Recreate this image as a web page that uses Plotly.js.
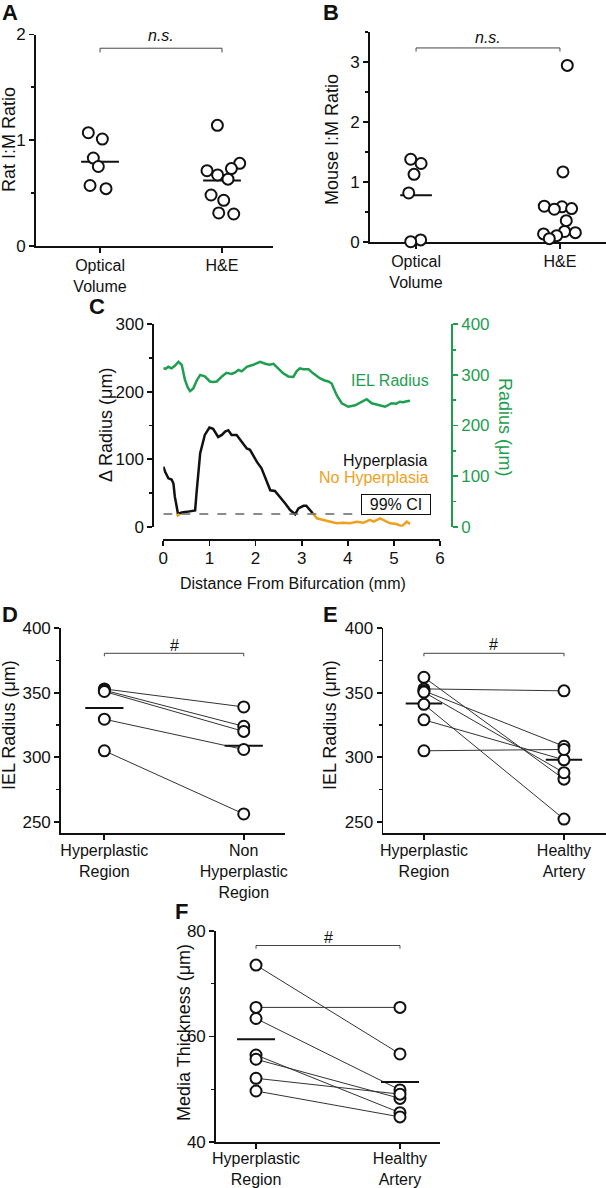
<!DOCTYPE html>
<html>
<head>
<meta charset="utf-8">
<script src="https://cdn.plot.ly/plotly-3.0.1.min.js"></script>
<style>html,body{margin:0;padding:0;background:#fff;}#chart{width:606px;height:1188px;}</style>
</head>
<body>
<div id="chart"></div>
<script>
// ---------------- DATA ----------------
// Panel A: rat I:M ratio
const catsAB = ['Optical<br>Volume', 'H&E'];
const ratOptical = [1.07, 1.01, 0.83, 0.75, 0.57, 0.54];
const ratHE = [1.14, 0.78, 0.73, 0.71, 0.67, 0.63, 0.48, 0.43, 0.31, 0.30];
// Panel B: mouse I:M ratio
const mouseOptical = [1.38, 1.31, 1.13, 0.82, 0.04, 0.01];
const mouseHE = [2.94, 1.17, 0.60, 0.59, 0.56, 0.55, 0.36, 0.14, 0.18, 0.16, 0.11, 0.06];
// Panel C: profile along the artery
const ielDist = [0.0, 0.05, 0.11, 0.18, 0.25, 0.33, 0.40, 0.47, 0.53, 0.58, 0.65, 0.72, 0.80, 0.90, 1.01, 1.08, 1.16, 1.27, 1.37, 1.48, 1.56, 1.63, 1.70, 1.81, 1.95, 2.10, 2.21, 2.30, 2.39, 2.49, 2.60, 2.71, 2.82, 2.89, 2.96, 3.04, 3.15, 3.25, 3.40, 3.50, 3.58, 3.65, 3.76, 3.87, 4.01, 4.16, 4.27, 4.35, 4.41, 4.52, 4.66, 4.81, 4.95, 5.05, 5.13, 5.20, 5.28, 5.35];
const ielRadius = [313, 312, 316, 313, 318, 326, 320, 290, 275, 268, 273, 288, 300, 297, 287, 286, 287, 297, 304, 302, 305, 310, 307, 316, 320, 326, 322, 320, 322, 313, 303, 297, 296, 307, 313, 311, 311, 303, 293, 289, 287, 283, 260, 244, 237, 240, 245, 250, 252, 244, 240, 237, 244, 243, 247, 246, 248, 249];
const hypDist = [0.0, 0.04, 0.11, 0.18, 0.22, 0.25, 0.29, 0.32, 0.36, 0.40, 0.51, 0.65, 0.69, 0.72, 0.76, 0.80, 0.90, 1.00, 1.08, 1.19, 1.27, 1.34, 1.41, 1.48, 1.59, 1.70, 1.81, 1.88, 2.03, 2.13, 2.24, 2.32, 2.42, 2.53, 2.64, 2.75, 2.86, 2.93, 3.04, 3.10, 3.18, 3.24];
const hypDelta = [89, 81.5, 71.7, 70, 64, 44.5, 30, 18, 20, 21, 22, 23, 24, 49.5, 85, 109, 136, 147, 145, 133, 136, 141, 143, 136, 136, 126, 116, 114, 96, 86.5, 69, 54, 53, 44.5, 34.7, 24.7, 18.5, 27, 31, 31, 25, 20];
const noHypDist = [0.30, 0.32, 0.35, null, 3.24, 3.27, 3.33, 3.47, 3.62, 3.76, 3.90, 4.05, 4.19, 4.34, 4.48, 4.56, 4.70, 4.81, 4.92, 5.06, 5.17, 5.28, 5.35];
const noHypDelta = [19, 16, 19, null, 20, 17.3, 12.4, 10, 7.4, 5, 6, 5, 7.4, 6, 10, 7.4, 12.4, 8.6, 5, 4, 0.5, 7.4, 4];
const ci99 = 19;
const ciEnd = 4.23;
// Panel D: IEL radius, hyperplastic vs non-hyperplastic
const catsD = ['Hyperplastic<br>Region', 'Non<br>Hyperplastic<br>Region'];
const dHyper = [353, 352, 351, 329.5, 305];
const dNon = [339, 324, 320, 306, 256];
// Panel E: IEL radius, hyperplastic vs healthy
const catsEF = ['Hyperplastic<br>Region', 'Healthy<br>Artery'];
const eHyper = [362, 353, 351.5, 350.5, 341, 329, 305];
const eHealthy = [283, 351.5, 308.5, 288, 252, 298, 306];
// Panel F: media thickness
const fHyper = [73.5, 65.5, 63.4, 56.5, 55.7, 52.1, 49.7];
const fHealthy = [56.7, 65.5, 49.9, 45.6, 48.3, 49.1, 44.8];

// horizontal scatter offsets (layout only)
const jitA0 = [-0.096, 0.019, -0.055, -0.014, -0.082, 0.049];
const jitA1 = [-0.038, 0.145, 0.077, -0.123, -0.036, 0.049, -0.09, 0.014, -0.027, 0.096];
const jitB0 = [-0.037, 0.035, -0.014, -0.051, 0.032, -0.037];
const jitB1 = [0.051, 0.021, -0.109, 0.014, 0.081, -0.039, 0.044, -0.114, 0.032, 0.107, -0.023, -0.074];

// ---------------- HELPERS ----------------
const W = 606, H = 1188;
const FONT = 'Liberation Sans, Arial, Helvetica, sans-serif';
const INK = '#111';
const GREEN = '#1e9e4f';
const ORANGE = '#f0a01c';
const dx = (a, b) => [a / W, b / W];
const dy = (t, b) => [(H - b) / H, (H - t) / H];
const mean = a => a.reduce((s, v) => s + v, 0) / a.length;

const traces = [];
function points(xs, ys, xa, ya) {
  traces.push({type: 'scatter', mode: 'markers', x: xs, y: ys, xaxis: xa, yaxis: ya,
    cliponaxis: false, hoverinfo: 'skip',
    marker: {symbol: 'circle', size: 11, color: '#fff', line: {color: INK, width: 2}}});
}
function meanLine(c, vals, hw, xa, ya) {
  const m = mean(vals);
  traces.push({type: 'scatter', mode: 'lines', x: [c - hw, c + hw], y: [m, m], xaxis: xa, yaxis: ya,
    cliponaxis: false, hoverinfo: 'skip', line: {color: INK, width: 2}});
}
function scatterGroup(c, vals, jit, xa, ya) {
  points(vals.map((v, i) => c + jit[i]), vals, xa, ya);
}
function paired(a, b, hw, xa, ya) {
  a.forEach((v, i) => {
    traces.push({type: 'scatter', mode: 'lines', x: [0, 1], y: [v, b[i]], xaxis: xa, yaxis: ya,
      hoverinfo: 'skip', line: {color: '#333', width: 1}});
  });
  meanLine(0, a, hw, xa, ya);
  meanLine(1, b, hw, xa, ya);
  points(a.map(() => 0), a, xa, ya);
  points(b.map(() => 1), b, xa, ya);
}

// Panel A
meanLine(0, ratOptical, 0.155, 'x', 'y');
meanLine(1, ratHE, 0.155, 'x', 'y');
scatterGroup(0, ratOptical, jitA0, 'x', 'y');
scatterGroup(1, ratHE, jitA1, 'x', 'y');
// Panel B
meanLine(0, mouseOptical, 0.11, 'x2', 'y2');
meanLine(1, mouseHE, 0.11, 'x2', 'y2');
scatterGroup(0, mouseOptical, jitB0, 'x2', 'y2');
scatterGroup(1, mouseHE, jitB1, 'x2', 'y2');
// Panel C
traces.push({type: 'scatter', mode: 'lines', x: ielDist, y: ielRadius, xaxis: 'x3', yaxis: 'y4',
  hoverinfo: 'skip', line: {color: GREEN, width: 2.5}});
traces.push({type: 'scatter', mode: 'lines', x: hypDist, y: hypDelta, xaxis: 'x3', yaxis: 'y3',
  hoverinfo: 'skip', line: {color: INK, width: 2.5}});
traces.push({type: 'scatter', mode: 'lines', x: noHypDist, y: noHypDelta, xaxis: 'x3', yaxis: 'y3',
  hoverinfo: 'skip', connectgaps: false, line: {color: ORANGE, width: 2.5}});
// Panel D, E, F
paired(dHyper, dNon, 0.137, 'x5', 'y5');
paired(eHyper, eHealthy, 0.13, 'x6', 'y6');
paired(fHyper, fHealthy, 0.132, 'x7', 'y7');

// ---------------- LAYOUT ----------------
const base = {showgrid: false, zeroline: false, showline: true, linecolor: INK, linewidth: 1.8,
  ticks: 'outside', tickcolor: INK, tickwidth: 1.8, ticklen: 5, fixedrange: true,
  tickfont: {family: FONT, size: 17, color: INK}};
const minor = (d, t0, col) => ({dtick: d, tick0: t0, ticks: 'outside', ticklen: 3, tickwidth: 1.8, tickcolor: col || INK, showgrid: false});
const catAxis = (dom, rng, anchor, txt, so) => Object.assign({}, base, {domain: dom, range: rng, anchor: anchor,
  tickmode: 'array', tickvals: [0, 1], ticktext: txt, ticklabelstandoff: so,
  tickfont: {family: FONT, size: 16, color: INK}});
const valAxis = (dom, rng, anchor, t0, d, md) => Object.assign({}, base, {domain: dom, range: rng, anchor: anchor,
  tickmode: 'linear', tick0: t0, dtick: d, minor: minor(md, t0)});

const layout = {
  width: W, height: H, margin: {l: 0, r: 0, t: 0, b: 0}, showlegend: false,
  paper_bgcolor: '#fff', plot_bgcolor: 'rgba(0,0,0,0)',
  font: {family: FONT, color: INK},
  xaxis: catAxis(dx(36, 273), [-0.525, 1.418], 'y', catsAB, -1),
  yaxis: valAxis(dy(34.5, 245.7), [0, 2], 'x', 0, 1, 0.5),
  xaxis2: Object.assign(catAxis(dx(370, 606), [-0.32, 1.32], 'y2', catsAB, -1), {layer: 'below traces'}),
  yaxis2: Object.assign(valAxis(dy(31.7, 242.3), [0, 3.5], 'x2', 0, 1, 0.5), {layer: 'below traces'}),
  xaxis3: Object.assign({}, base, {domain: dx(163.3, 440), range: [0, 6], anchor: 'free', position: (H - 539.3) / H,
    tickmode: 'linear', tick0: 0, dtick: 1, ticklabelstandoff: -3}),
  yaxis3: Object.assign({}, base, {domain: dy(324.3, 526.7), range: [0, 300], anchor: 'free', position: 152.3 / W,
    tickmode: 'linear', tick0: 0, dtick: 100, minor: minor(50, 0)}),
  yaxis4: Object.assign({}, base, {domain: dy(324.3, 526.7), range: [0, 400], overlaying: 'y3', side: 'right',
    anchor: 'free', position: 451 / W, linecolor: GREEN, tickcolor: GREEN,
    tickfont: {family: FONT, size: 17, color: GREEN},
    tickmode: 'linear', tick0: 0, dtick: 100, minor: minor(50, 0, GREEN)}),
  xaxis5: catAxis(dx(61, 285), [-0.311, 1.296], 'y5', catsD, -3),
  yaxis5: valAxis(dy(628.3, 833.3), [241, 400], 'x5', 250, 50, 25),
  xaxis6: catAxis(dx(383.3, 606), [-0.29, 1.30], 'y6', catsEF, -3),
  yaxis6: valAxis(dy(628.3, 833.3), [241, 400], 'x6', 250, 50, 25),
  xaxis7: catAxis(dx(216, 440), [-0.278, 1.278], 'y7', catsEF, -4),
  yaxis7: valAxis(dy(930.7, 1142.3), [40, 80], 'x7', 40, 20, 10),
  shapes: [],
  annotations: []
};

// brackets
function bracket(xa, ya, yTop, yEnd, label, yLabel, italic) {
  layout.shapes.push({type: 'path', xref: xa, yref: ya,
    path: `M 0,${yEnd} L 0,${yTop} L 1,${yTop} L 1,${yEnd}`, line: {color: '#444', width: 1}});
  layout.annotations.push({xref: xa, yref: ya, x: 0.5, y: yLabel, text: italic ? '<i>' + label + '</i>' : label,
    showarrow: false, xanchor: 'center', yanchor: 'middle', font: {family: FONT, size: 16, color: INK}});
}
bracket('x', 'y', 1.87, 1.83, 'n.s.', 1.99, true);
bracket('x2', 'y2', 3.23, 3.17, 'n.s.', 3.41, true);
bracket('x5', 'y5', 380.6, 378.3, '#', 386.5, false);
bracket('x6', 'y6', 380.6, 378.3, '#', 387.5, false);
bracket('x7', 'y7', 77.2, 76.6, '#', 78.8, false);

// CI line in panel C
layout.shapes.push({type: 'line', xref: 'x3', yref: 'y3', x0: 0, x1: ciEnd, y0: ci99, y1: ci99,
  line: {color: '#666', width: 1.5, dash: 'dash'}});

function ptext(text, px, py, opts) {
  layout.annotations.push(Object.assign({xref: 'paper', yref: 'paper', x: px / W, y: 1 - py / H, text: text,
    showarrow: false, xanchor: 'center', yanchor: 'middle', font: {family: FONT, size: 18, color: INK}}, opts || {}));
}
// panel letters
const big = {font: {family: FONT, size: 22, color: INK}};
ptext('<b>A</b>', 10, 13, big);
ptext('<b>B</b>', 331, 13, big);
ptext('<b>C</b>', 97, 306, big);
ptext('<b>D</b>', 10, 614, big);
ptext('<b>E</b>', 330, 614, big);
ptext('<b>F</b>', 181, 912, big);
// axis titles
ptext('Rat I:M Ratio', 9, 140, {textangle: -90});
ptext('Mouse I:M Ratio', 332, 140, {textangle: -90});
ptext('Δ Radius (μm)', 106, 425, {textangle: -90});
ptext('Radius (μm)', 505, 427, {textangle: 90, font: {family: FONT, size: 18, color: GREEN}});
ptext('Distance From Bifurcation (mm)', 293, 583, {font: {family: FONT, size: 16, color: INK}});
ptext('IEL Radius (μm)', 9, 725, {textangle: -90});
ptext('IEL Radius (μm)', 330, 725, {textangle: -90});
ptext('Media Thickness (μm)', 184, 1033, {textangle: -90});
// panel C in-plot labels
const cx = px => (px - 163.3) / 46.1;
const cy = py => (526.7 - py) / 0.6747;
layout.annotations.push({xref: 'x3', yref: 'y3', x: cx(431), y: cy(380.7), text: 'IEL Radius', showarrow: false,
  xanchor: 'right', yanchor: 'middle', font: {family: FONT, size: 16, color: GREEN}});
layout.annotations.push({xref: 'x3', yref: 'y3', x: cx(430), y: cy(460), text: 'Hyperplasia', showarrow: false,
  xanchor: 'right', yanchor: 'middle', font: {family: FONT, size: 16, color: INK}});
layout.annotations.push({xref: 'x3', yref: 'y3', x: cx(430), y: cy(477), text: 'No Hyperplasia', showarrow: false,
  xanchor: 'right', yanchor: 'middle', font: {family: FONT, size: 16, color: ORANGE}});
layout.annotations.push({xref: 'x3', yref: 'y3', x: cx(395.5), y: cy(504), text: '99% CI', showarrow: false,
  xanchor: 'center', yanchor: 'middle', width: 66, height: 17, bordercolor: INK, borderwidth: 1, borderpad: 1,
  bgcolor: '#fff', font: {family: FONT, size: 16, color: INK}});

Plotly.newPlot('chart', traces, layout, {staticPlot: true, displayModeBar: false});
</script>
</body>
</html>
